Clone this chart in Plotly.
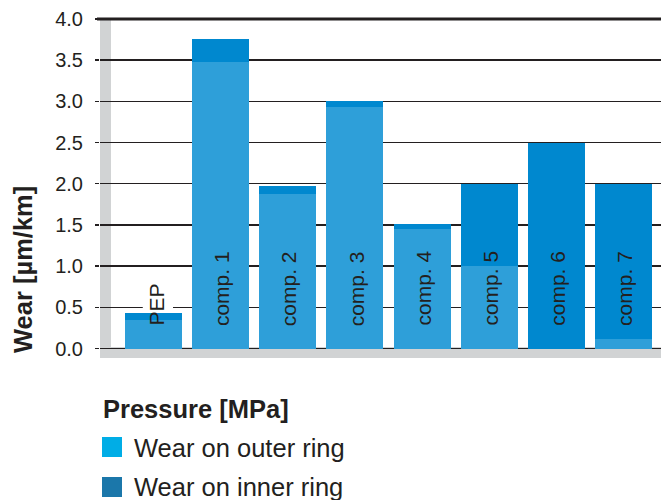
import plotly.graph_objects as go

categories = ["PEP", "comp. 1", "comp. 2", "comp. 3", "comp. 4", "comp. 5", "comp. 6", "comp. 7"]
wear_outer = [0.35, 3.48, 1.88, 2.93, 1.45, 1.00, 0.00, 0.12]
wear_inner = [0.08, 0.27, 0.09, 0.07, 0.06, 1.00, 2.50, 1.88]
y_ticks = [0.0, 0.5, 1.0, 1.5, 2.0, 2.5, 3.0, 3.5, 4.0]
y_ticktext = ["0.0", "0.5", "1.0", "1.5", "2.0", "2.5", "3.0", "3.5", "4.0"]
legend_labels = ["Wear on outer ring", "Wear on inner ring"]
y_title = "Wear [µm/km]"
x_title = "Pressure [MPa]"

BAR_OUTER = "#2e9fd9"
BAR_INNER = "#0088cf"
LEG_OUTER = "#00ade6"
LEG_INNER = "#1b77aa"
GRAY = "#d1d3d4"
INK = "#231f20"
FONT = "Liberation Sans, Arial, sans-serif"

W, H = 661, 500
L, R, T, B = 100, 661, 16, 358


def px_x(px):
    return (px - L) / (R - L)


def px_y(py):
    return (B - py) / (B - T)


fig = go.Figure()
fig.add_trace(go.Bar(x=categories, y=wear_outer, marker=dict(color=BAR_OUTER, line=dict(width=0)),
                     name=legend_labels[0], showlegend=False))
fig.add_trace(go.Bar(x=categories, y=wear_inner, marker=dict(color=BAR_INNER, line=dict(width=0)),
                     name=legend_labels[1], showlegend=False))

shapes = []
# white gap in gridline behind PEP label
shapes.append(dict(type="rect", xref="x", yref="y", x0=-0.16, x1=0.29, y0=0.47, y1=0.53,
                   fillcolor="white", line=dict(width=0), layer="between"))
# gray axis bands
shapes.append(dict(type="rect", xref="paper", yref="paper", x0=0, x1=px_x(111), y0=0, y1=px_y(20),
                   fillcolor=GRAY, line=dict(width=0), layer="between"))
shapes.append(dict(type="rect", xref="paper", yref="paper", x0=0, x1=1, y0=0, y1=px_y(347),
                   fillcolor=GRAY, line=dict(width=0), layer="between"))
# heavy top line
shapes.append(dict(type="line", xref="paper", yref="y", x0=px_x(97), x1=1, y0=4.0, y1=4.0,
                   line=dict(color=INK, width=3), layer="above"))
# legend swatches
shapes.append(dict(type="rect", xref="paper", yref="paper", x0=px_x(102), x1=px_x(122),
                   y0=px_y(457), y1=px_y(437), fillcolor=LEG_OUTER, line=dict(width=0)))
shapes.append(dict(type="rect", xref="paper", yref="paper", x0=px_x(102), x1=px_x(122),
                   y0=px_y(497), y1=px_y(477), fillcolor=LEG_INNER, line=dict(width=0)))

annotations = []
for i, c in enumerate(categories):
    annotations.append(dict(x=c, y=0.25, xref="x", yref="y", text=c, textangle=-90,
                            showarrow=False, xanchor="center", yanchor="bottom",
                            xshift=3 if i == 0 else 1,
                            font=dict(family=FONT, size=21, color=INK)))
annotations.append(dict(x=px_x(23), y=px_y(270), xref="paper", yref="paper", text="<b>" + y_title + "</b>",
                        textangle=-90, showarrow=False, xanchor="center", yanchor="middle",
                        font=dict(family=FONT, size=25.5, color=INK)))
annotations.append(dict(x=px_x(101), y=px_y(409), xref="paper", yref="paper", text="<b>" + x_title + "</b>",
                        showarrow=False, xanchor="left", yanchor="middle",
                        font=dict(family=FONT, size=25.5, color=INK)))
for k, lab in enumerate(legend_labels):
    annotations.append(dict(x=px_x(132), y=px_y(448 + 39 * k), xref="paper", yref="paper", text=lab,
                            showarrow=False, xanchor="left", yanchor="middle",
                            font=dict(family=FONT, size=25.5, color=INK)))

fig.update_layout(
    width=W, height=H,
    margin=dict(l=L, r=W - R, t=T, b=H - B, pad=0, autoexpand=False),
    plot_bgcolor="white", paper_bgcolor="white",
    barmode="stack", bargap=0.151,
    showlegend=False,
    shapes=shapes, annotations=annotations,
    font=dict(family=FONT, color=INK),
)
fig.update_xaxes(range=[-0.797, 7.559], showticklabels=False, showgrid=False, zeroline=False,
                 showline=False, ticks="", automargin=False)
fig.update_yaxes(range=[-0.115, 4.035], tickvals=y_ticks, ticktext=y_ticktext,
                 ticks="outside", ticklen=4, tickwidth=1.5, tickcolor=INK, automargin=False,
                 showgrid=True, gridcolor=INK, gridwidth=1.5, zeroline=False, showline=False,
                 ticklabelstandoff=8, tickfont=dict(family=FONT, size=20, color=INK))

fig.write_html("out.html", config={"displayModeBar": False, "staticPlot": True},
               post_script="document.body.style.margin='0';document.body.style.overflow='hidden';")
